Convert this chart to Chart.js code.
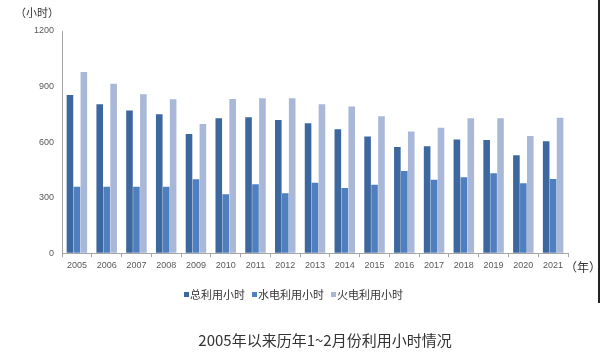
<!DOCTYPE html>
<html>
<head>
<meta charset="utf-8">
<script src="https://cdn.jsdelivr.net/npm/chart.js@4"></script>
<style>
  html, body { margin: 0; padding: 0; background: #fff; }
  #wrap { position: relative; width: 600px; height: 353px; }
  #grafico { display: block; }
  #borda { position: absolute; left: 598px; top: 0; width: 2px; height: 303px; background: #222; }
</style>
</head>
<body>
<div id="wrap">
  <canvas id="grafico" width="600" height="353"></canvas>
  <div id="borda"></div>
</div>
<script>
// dados
const anos = ["2005", "2006", "2007", "2008", "2009", "2010", "2011", "2012", "2013",
  "2014", "2015", "2016", "2017", "2018", "2019", "2020", "2021"];
const total = [855, 805, 770, 751, 644, 729, 734, 720, 702, 670, 630, 574, 578, 614, 612, 529, 605];
const hidro = [359, 359, 359, 359, 399, 318, 372, 324, 381, 352, 370, 444, 396, 410, 432, 378, 401];
const termica = [978, 915, 859, 832, 698, 833, 837, 837, 805, 792, 740, 657, 678, 729, 729, 633, 732];
const nomes = ["总利用小时", "水电利用小时", "火电利用小时"];
const cores = ["#3C679F", "#4F7FBF", "#A9B8D9"];
const yTicks = [0, 300, 600, 900, 1200];

const fonteCJK = "'Noto Sans CJK SC', 'Liberation Sans', sans-serif";

// textos extras: unidades, legenda e título inferior
const extras = {
  id: "extras",
  afterDraw(chart) {
    const c = chart.ctx;
    c.save();
    c.fillStyle = "#333";
    c.textBaseline = "middle";
    c.textAlign = "left";
    c.font = "11px " + fonteCJK;
    c.fillText("（小时）", 15, 13);
    c.font = "12px " + fonteCJK;
    c.fillText("（年）", 565, 267);

    // legenda
    const xs = [184, 252, 331];
    chart.data.datasets.forEach((ds, i) => {
      c.fillStyle = ds.backgroundColor;
      c.fillRect(xs[i], 292, 5, 5);
      c.fillStyle = "#333";
      c.font = "11px " + fonteCJK;
      c.fillText(ds.label, xs[i] + 6, 295);
    });

    c.font = "15px " + fonteCJK;
    c.fillStyle = "#333";
    c.textAlign = "center";
    c.fillText("2005年以来历年1~2月份利用小时情况", 325, 340);
    c.restore();
  },
};

new Chart(document.getElementById("grafico"), {
  type: "bar",
  data: {
    labels: anos,
    datasets: [
      { label: nomes[0], data: total, backgroundColor: cores[0] },
      { label: nomes[1], data: hidro, backgroundColor: cores[1] },
      { label: nomes[2], data: termica, backgroundColor: cores[2] },
    ],
  },
  options: {
    responsive: false,
    animation: false,
    devicePixelRatio: 1,
    categoryPercentage: 0.7,
    barPercentage: 0.95,
    layout: { padding: { left: 26, right: 32, top: 31, bottom: 79 } },
    plugins: {
      legend: { display: false },
      tooltip: { enabled: false },
    },
    scales: {
      x: {
        grid: { display: true, drawOnChartArea: false, offset: true, tickLength: 4, color: "#A6A6A6" },
        border: { color: "#A6A6A6" },
        ticks: { color: "#595959", font: { size: 9, family: "'Liberation Sans', sans-serif" }, padding: 3, maxRotation: 0, autoSkip: false },
      },
      y: {
        min: 0,
        max: 1200,
        afterBuildTicks: (scale) => { scale.ticks = yTicks.map((v) => ({ value: v })); },
        grid: { display: true, drawOnChartArea: false, drawTicks: false, color: "#A6A6A6" },
        border: { color: "#A6A6A6" },
        ticks: {
          color: "#595959",
          font: { size: 9, family: "'Liberation Sans', sans-serif" },
          padding: 8,
          callback: (v) => String(v),
        },
      },
    },
  },
  plugins: [extras],
});
</script>
</body>
</html>
